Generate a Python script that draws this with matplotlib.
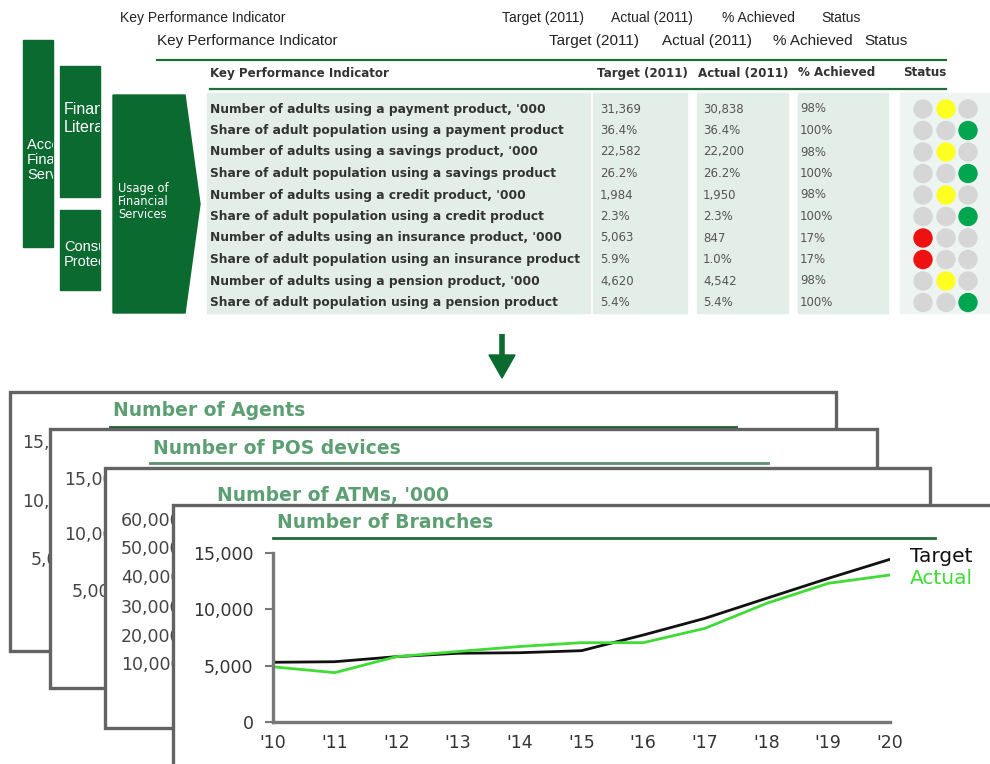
import matplotlib.pyplot as plt
from matplotlib.patches import Rectangle, Polygon, Circle

# KPI table
kpi_labels = [
    "Number of adults using a payment product, '000",
    "Share of adult population using a payment product",
    "Number of adults using a savings product, '000",
    "Share of adult population using a savings product",
    "Number of adults using a credit product, '000",
    "Share of adult population using a credit product",
    "Number of adults using an insurance product, '000",
    "Share of adult population using an insurance product",
    "Number of adults using a pension product, '000",
    "Share of adult population using a pension product",
]
target_2011 = ["31,369", "36.4%", "22,582", "26.2%", "1,984", "2.3%", "5,063", "5.9%", "4,620", "5.4%"]
actual_2011 = ["30,838", "36.4%", "22,200", "26.2%", "1,950", "2.3%", "847", "1.0%", "4,542", "5.4%"]
pct_achieved = [98, 100, 98, 100, 98, 100, 17, 17, 98, 100]
headers = ["Key Performance Indicator", "Target (2011)", "Actual (2011)", "% Achieved", "Status"]

# Branch numbers
years = list(range(2010, 2021))
branches_target = [5300, 5350, 5800, 6100, 6150, 6330, 7720, 9200, 10980, 12750, 14440]
branches_actual = [4900, 4380, 5800, 6260, 6700, 7040, 7040, 8310, 10530, 12310, 13050]

# stacked chart cards behind the branches chart
card_titles = ["Number of Agents", "Number of POS devices", "Number of ATMs, '000"]
card_ticks = [["15,000", "10,000", "5,000"],
              ["15,000", "10,000", "5,000"],
              ["60,000", "50,000", "40,000", "30,000", "20,000", "10,000"]]

GREEN = "#0b6a2f"
LINE_GREEN = "#1f6e3a"
TITLE_GREEN = "#5c9f72"
FRAME = "#636363"
CELL = "#e2eee7"
DV = 'DejaVu Sans'

plt.rcParams['font.family'] = ['Liberation Sans', 'DejaVu Sans']

fig = plt.figure(figsize=(9.9, 7.64), dpi=100)
bg = fig.add_axes([0, 0, 1, 1])
bg.set_xlim(0, 990)
bg.set_ylim(764, 0)
bg.axis('off')

# ---- left hand pillars ----
def pillar(x0, y0, x1, y1, lines, tx, ty, size, spacing=1.15):
    box = Rectangle((x0, y0), x1 - x0, y1 - y0, color=GREEN, zorder=2)
    bg.add_patch(box)
    t = bg.text(tx, ty, "\n".join(lines), color='white', fontsize=size,
                va='top', ha='left', linespacing=spacing, zorder=3, clip_on=True)
    t.set_clip_path(box)

pillar(23, 40, 53, 247, ["Access to", "Financial", "Services"], 27, 138, 10.5, 1.1)
pillar(60, 66, 100, 197, ["Financial", "Literacy"], 64, 102, 11.5, 1.25)
pillar(60, 210, 100, 290, ["Consumer", "Protection"], 64, 240, 10.5, 1.1)

chevron = Polygon([(113, 95), (185, 95), (200, 204), (185, 313), (113, 313)],
                  closed=True, color=GREEN, zorder=2)
bg.add_patch(chevron)
bg.text(118, 182, "Usage of\nFinancial\nServices", color='white', fontsize=8.3,
        family=DV, va='top', ha='left', linespacing=1.0, zorder=3)

# ---- header rows repeated from the slides behind ----
narrow = ['Liberation Sans Narrow', 'Liberation Sans', 'DejaVu Sans']
for y, xs, size in [(18, [120, 502, 611, 722, 821], 10),
                    (41, [157, 549, 662, 773, 864], 11)]:
    for x, h in zip(xs, headers):
        bg.text(x, y, h, fontsize=size, family=narrow, color='#222',
                va='center', ha='left')
bg.plot([157, 946], [60, 60], color=LINE_GREEN, lw=1.6)

# ---- KPI table ----
col_x = [210, 597, 698, 798, 903]
for x, h in zip(col_x, headers):
    bg.text(x, 73, h, fontsize=8.6, fontweight='bold', family=DV, color='#333', va='center')
bg.plot([210, 946], [89, 89], color=LINE_GREEN, lw=1.6)

for x0, x1, fc in [(207, 590, CELL), (593, 687, CELL), (697, 788, CELL),
                   (798, 888, CELL), (900, 990, '#eef4f1')]:
    bg.add_patch(Rectangle((x0, 93), x1 - x0, 220, color=fc, zorder=0))

row_y = [109 + 21.5 * i for i in range(len(kpi_labels))]
for i, y in enumerate(row_y):
    bg.text(210, y, kpi_labels[i], fontsize=8.8, fontweight='bold', family=DV,
            color='#333', va='center')
    bg.text(600, y, target_2011[i], fontsize=8.5, family=DV, color='#555', va='center')
    bg.text(703, y, actual_2011[i], fontsize=8.5, family=DV, color='#555', va='center')
    bg.text(800, y, f"{pct_achieved[i]}%", fontsize=8.5, family=DV, color='#555', va='center')
    p = pct_achieved[i]
    lit = 0 if p < 50 else (1 if p < 100 else 2)
    lit_col = ['#ee1111', '#ffff22', '#00a550'][lit]
    for k, cx in enumerate([923, 946, 968]):
        bg.add_patch(Circle((cx, y), 9, color=lit_col if k == lit else '#d6d6d6', zorder=2))

# ---- arrow ----
bg.plot([502, 502], [334, 357], color=GREEN, lw=4, solid_capstyle='butt')
bg.add_patch(Polygon([(489, 355), (515, 355), (502, 378)], closed=True, color=GREEN))

# ---- stacked cards ----
cards = [(10, 392, 836, 651), (50, 429, 877, 688), (105, 468, 930, 728)]
title_pos = [(113, 411), (153, 448), (217, 495)]
underlines = [(110, 736, 427, '#1d5a2f'), (150, 768, 463, '#5e8f6e'), (214, 800, 512, '#1d5a2f')]
tick_pos = [[(22, 443), (22, 502), (31, 560)],
            [(64, 480), (64, 535), (72, 592)],
            [(121, 521), (121, 549), (121, 578), (121, 608), (121, 637), (121, 665)]]
z = 10
for c, (x0, y0, x1, y1) in enumerate(cards):
    bg.add_patch(Rectangle((x0, y0), x1 - x0, y1 - y0, facecolor='white',
                           edgecolor=FRAME, lw=2.4, zorder=z))
    bg.text(*title_pos[c], card_titles[c], fontsize=13.5, fontweight='bold',
            color=TITLE_GREEN, family=DV, va='center', zorder=z + 1)
    ux0, ux1, uy, ucol = underlines[c]
    bg.plot([ux0, ux1], [uy, uy], color=ucol, lw=2, zorder=z + 1)
    for (tx, ty), lab in zip(tick_pos[c], card_ticks[c]):
        bg.text(tx, ty, lab, fontsize=12.5, color='#444', family=DV,
                va='center', zorder=z + 1)
    z += 2

bg.add_patch(Rectangle((173, 505), 900, 400, facecolor='white',
                       edgecolor=FRAME, lw=2.4, zorder=z))
bg.text(277, 523, "Number of Branches", fontsize=13.5, fontweight='bold',
        color=TITLE_GREEN, family=DV, va='center', zorder=z + 1)
bg.plot([273, 935], [538, 538], color='#1e6b3a', lw=2, zorder=z + 1)
bg.text(910, 557, "Target", fontsize=14.5, color='#111', family=DV,
        va='center', zorder=z + 1)
bg.text(910, 579, "Actual", fontsize=14.5, color='#3fdc35', family=DV,
        va='center', zorder=z + 1)

# ---- branches line chart ----
ax = fig.add_axes([273 / 990, (764 - 722) / 764, (890 - 273) / 990, (722 - 553) / 764])
ax.patch.set_alpha(0)
ax.plot(years, branches_target, color='#111', lw=2)
ax.plot(years, branches_actual, color='#3fdc35', lw=2)
ax.set_xlim(2010, 2020)
ax.set_ylim(0, 15000)
ax.set_yticks([0, 5000, 10000, 15000])
ax.set_yticklabels([f"{v:,}" for v in [0, 5000, 10000, 15000]])
ax.set_xticks(years)
ax.set_xticklabels([f"'{y % 100:02d}" for y in years])
for s in ['top', 'right']:
    ax.spines[s].set_visible(False)
for s in ['left', 'bottom']:
    ax.spines[s].set_color('#777')
    ax.spines[s].set_linewidth(2.4)
ax.tick_params(axis='y', length=6, width=1.5, color='#777', pad=8,
               labelsize=12.5, labelcolor='#333')
ax.tick_params(axis='x', length=0, pad=9, labelsize=12.5, labelcolor='#333')
for lab in ax.get_xticklabels() + ax.get_yticklabels():
    lab.set_family(DV)

fig.savefig('out.png', dpi=100)
